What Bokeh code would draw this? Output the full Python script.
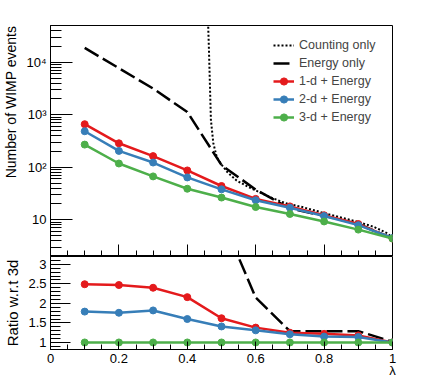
from bokeh.plotting import figure
from bokeh.layouts import column
from bokeh.models import FixedTicker, Legend, LegendItem, Range1d
from bokeh.embed import file_html
from bokeh.resources import INLINE

# ---------------- data ----------------
lam = [0.1, 0.2, 0.3, 0.4, 0.5, 0.6, 0.7, 0.8, 0.9, 1.0]
n_1d = [660, 286, 163, 87, 44, 25, 18, 12.2, 8.3, 4.4]
n_2d = [485, 205, 123, 64, 38, 23.6, 17, 11.8, 7.9, 4.5]
n_3d = [270, 118, 67, 39, 26.5, 17.5, 12.9, 9.3, 6.5, 4.4]
n_energy = [18700, 7700, 3150, 1130, 110, 37.6, 16.5, 11.9, 8.3, 4.4]

lam_count = [0.460, 0.463, 0.466, 0.469, 0.476, 0.486, 0.498, 0.517, 0.544,
             0.579, 0.642, 0.688, 0.736, 0.802, 0.900, 0.946, 0.986, 1.0]
n_count = [80000, 20000, 4000, 800, 290, 157, 117, 81, 56,
           42, 27, 20.6, 17.5, 13.3, 9.1, 7.3, 5.5, 4.4]

r_1d = [2.49, 2.47, 2.40, 2.16, 1.62, 1.38, 1.25, 1.22, 1.18, 1.0]
r_2d = [1.79, 1.76, 1.82, 1.60, 1.41, 1.31, 1.21, 1.15, 1.14, 1.0]
r_3d = [1.0, 1.0, 1.0, 1.0, 1.0, 1.0, 1.0, 1.0, 1.0, 1.0]
r_energy = [69, 64, 47, 29, 4.2, 2.15, 1.29, 1.29, 1.29, 1.02]

x_ticks = [0, 0.2, 0.4, 0.6, 0.8, 1.0]
x_tick_labels = ["0", "0.2", "0.4", "0.6", "0.8", "1"]
top_y_ticks = [10, 100, 1000, 10000]
top_y_labels = ["10", "10\u00b2", "10\u00b3", "10\u2074"]
bot_y_ticks = [1, 1.5, 2, 2.5, 3]
bot_y_labels = ["1", "1.5", "2", "2.5", "3"]

RED = "#e41a1c"
BLUE = "#377eb8"
GREEN = "#4daf4a"
FONT = "Liberation Sans"
NBSP = "\u00a0"

# ---------------- top panel ----------------
p1 = figure(width=436, height=256, x_range=Range1d(0, 1), y_range=Range1d(2, 50000),
            y_axis_type="log", output_backend="svg", toolbar_location=None,
            min_border_left=43, min_border_right=44, min_border_top=25, min_border_bottom=0)
p1.grid.visible = False
p1.outline_line_color = "black"
p1.outline_line_width = 1

minor_x = [i * 0.05 for i in range(21) if i % 4 != 0]
p1.xaxis.ticker = FixedTicker(ticks=x_ticks, minor_ticks=minor_x)
p1.xaxis.major_label_overrides = {t: "" for t in x_ticks}
p1.xaxis.major_tick_in = 12
p1.xaxis.major_tick_out = 0
p1.xaxis.minor_tick_in = 6
p1.xaxis.minor_tick_out = 0
p1.xaxis.major_label_text_font_size = "0px"
p1.xaxis.major_label_standoff = 0

minor_log = [m * 10 ** e for e in range(0, 5) for m in range(2, 10)]
p1.yaxis.ticker = FixedTicker(ticks=top_y_ticks, minor_ticks=minor_log)
p1.yaxis.major_label_overrides = dict(zip(top_y_ticks, top_y_labels))
p1.yaxis.major_tick_in = 22
p1.yaxis.major_tick_out = 0
p1.yaxis.minor_tick_in = 11
p1.yaxis.minor_tick_out = 0
p1.yaxis.major_label_standoff = 4
p1.yaxis.major_label_text_font = FONT
p1.yaxis.major_label_text_font_size = "13px"
p1.yaxis.major_label_text_color = "black"
# leading no-break spaces push the title towards the top end of the axis (as in the original)
p1.yaxis.axis_label = NBSP * 20 + "Number of WIMP events"
p1.yaxis.axis_label_standoff = 4
p1.yaxis.axis_label_text_font = FONT
p1.yaxis.axis_label_text_font_size = "14px"
p1.yaxis.axis_label_text_font_style = "normal"
p1.yaxis.axis_label_text_color = "black"
for ax in (p1.xaxis, p1.yaxis):
    ax.axis_line_color = "black"
    ax.major_tick_line_color = "black"
    ax.minor_tick_line_color = "black"

r_count = p1.line(lam_count, n_count, line_color="black", line_width=2, line_dash="2 2")
r_en = p1.line(lam, n_energy, line_color="black", line_width=2.5, line_dash="16 5")
items = [LegendItem(label="Counting only", renderers=[r_count]),
         LegendItem(label="Energy only", renderers=[r_en])]
for vals, col, name in ((n_1d, RED, "1-d + Energy"), (n_2d, BLUE, "2-d + Energy"),
                        (n_3d, GREEN, "3-d + Energy")):
    l = p1.line(lam, vals, line_color=col, line_width=2.5)
    s = p1.scatter(lam, vals, size=7, fill_color=col, line_color=col)
    items.append(LegendItem(label=name, renderers=[l, s]))

leg = Legend(items=items, location=(223, 130), border_line_color=None,
             background_fill_alpha=0, padding=0, margin=0, spacing=0,
             glyph_width=21, glyph_height=18, label_height=18, label_standoff=5,
             label_text_font=FONT, label_text_font_size="12.5px")
p1.add_layout(leg)

# ---------------- bottom panel ----------------
p2 = figure(width=436, height=126, x_range=Range1d(0, 1), y_range=Range1d(0.82, 3.2),
            output_backend="svg", toolbar_location=None,
            min_border_left=43, min_border_right=44, min_border_top=0, min_border_bottom=33)
p2.grid.visible = False
p2.outline_line_color = "black"
p2.outline_line_width = 1

p2.xaxis.ticker = FixedTicker(ticks=x_ticks, minor_ticks=minor_x)
p2.xaxis.major_label_overrides = dict(zip(x_ticks, x_tick_labels))
p2.xaxis.major_tick_in = 8
p2.xaxis.major_tick_out = 0
p2.xaxis.minor_tick_in = 5
p2.xaxis.minor_tick_out = 0
p2.xaxis.major_label_standoff = 4
p2.xaxis.major_label_text_font = FONT
p2.xaxis.major_label_text_font_size = "13px"
p2.xaxis.axis_label = "\u03bb"
p2.xaxis.axis_label_align = "end"
p2.xaxis.axis_label_standoff = -3
p2.xaxis.axis_label_text_font = FONT
p2.xaxis.axis_label_text_font_size = "13px"
p2.xaxis.axis_label_text_font_style = "normal"

minor_lin = [round(0.8 + 0.1 * i, 2) for i in range(25) if round((0.8 + 0.1 * i) * 2, 3) % 1 != 0]
p2.yaxis.ticker = FixedTicker(ticks=bot_y_ticks, minor_ticks=minor_lin)
p2.yaxis.major_label_overrides = dict(zip(bot_y_ticks, bot_y_labels))
p2.yaxis.major_tick_in = 20
p2.yaxis.major_tick_out = 0
p2.yaxis.minor_tick_in = 10
p2.yaxis.minor_tick_out = 0
p2.yaxis.major_label_standoff = 4
p2.yaxis.major_label_text_font = FONT
p2.yaxis.major_label_text_font_size = "13px"
p2.yaxis.axis_label = "Ratio w.r.t 3d"
p2.yaxis.axis_label_standoff = 4
p2.yaxis.axis_label_text_font = FONT
p2.yaxis.axis_label_text_font_size = "15px"
p2.yaxis.axis_label_text_font_style = "normal"
for ax in (p2.xaxis, p2.yaxis):
    ax.axis_line_color = "black"
    ax.major_tick_line_color = "black"
    ax.minor_tick_line_color = "black"
    ax.major_label_text_color = "black"
    ax.axis_label_text_color = "black"

p2.line(lam, r_energy, line_color="black", line_width=2.5, line_dash="16 5")
for vals, col in ((r_1d, RED), (r_2d, BLUE), (r_3d, GREEN)):
    p2.line(lam, vals, line_color=col, line_width=2.5)
    p2.scatter(lam, vals, size=7, fill_color=col, line_color=col)

layout = column(p1, p2, spacing=0)
open("out.html", "w").write(file_html(layout, INLINE))
